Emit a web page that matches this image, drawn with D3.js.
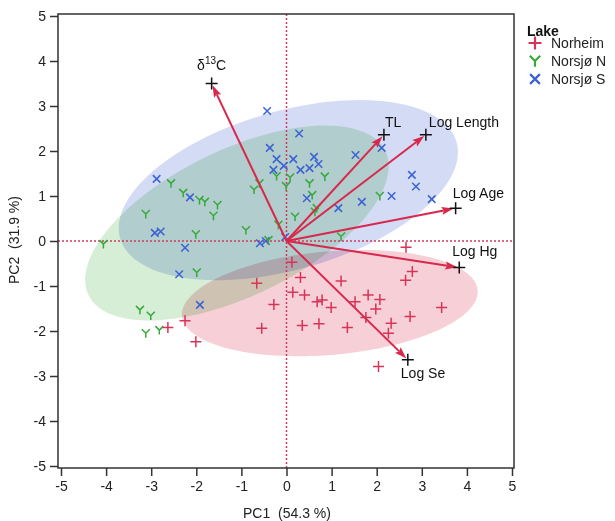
<!DOCTYPE html>
<html>
<head>
<meta charset="utf-8">
<script src="https://cdn.jsdelivr.net/npm/d3@7"></script>
<style>
  body { margin: 0; background: #fff; }
  svg { font-family: "Liberation Sans", Arial, sans-serif; }
</style>
</head>
<body>
<svg id="chart" width="615" height="521"></svg>
<script>
// scores (PC1, PC2)
const norheim = [
  [0.12,-0.47],[0.31,-0.81],[-0.66,-0.94],[0.14,-1.14],[0.40,-1.20],[-0.28,-1.41],
  [-2.25,-1.77],[-2.63,-1.92],[-0.55,-1.94],[0.35,-1.88],[-2.01,-2.24],[2.65,-0.14],
  [2.79,-0.68],[2.64,-0.87],[1.21,-0.89],[0.68,-1.35],[0.79,-1.31],[0.99,-1.48],
  [1.52,-1.35],[1.81,-1.20],[2.07,-1.30],[1.98,-1.51],[1.76,-1.70],[2.32,-1.83],
  [2.26,-2.05],[2.74,-1.68],[3.44,-1.48],[0.72,-1.84],[1.35,-1.92],[2.04,-2.79]
];
const norsjoN = [
  [-2.56,1.28],[-2.29,1.07],[-1.93,0.91],[-1.81,0.87],[-1.53,0.80],[-1.62,0.56],
  [-3.12,0.60],[-2.01,0.15],[-0.90,0.24],[-4.06,-0.07],[-0.72,1.14],[-0.60,1.28],
  [-0.22,1.44],[0.08,1.41],[-0.01,1.22],[0.19,0.54],[-0.18,0.36],[-0.40,0.02],
  [0.51,1.28],[0.85,1.43],[0.57,1.02],[0.63,0.65],[0.67,0.73],[2.07,1.00],
  [1.21,0.10],[-1.99,-0.70],[-3.25,-1.53],[-3.01,-1.66],[-3.12,-2.05],[-2.82,-1.98]
];
const norsjoS = [
  [-0.43,2.89],[0.28,2.39],[-0.37,2.07],[-0.22,1.82],[0.15,1.82],[-0.06,1.67],
  [-0.29,1.58],[0.31,1.58],[0.51,1.62],[0.61,1.87],[0.71,1.71],[0.45,0.95],
  [1.53,1.91],[2.11,2.07],[1.15,0.73],[1.67,0.87],[2.33,1.00],[2.78,1.47],
  [2.87,1.21],[3.22,0.93],[-2.88,1.38],[-2.14,0.97],[-2.92,0.18],[-2.79,0.21],
  [-2.25,-0.15],[-2.38,-0.74],[-1.92,-1.42],[-0.59,-0.05],[-0.46,0.00],[-0.03,0.09]
];

// loading vectors
const loadNames = ["δ13C", "TL", "Log Length", "Log Age", "Log Hg", "Log Se"];
const loadX = [-1.66, 2.16, 3.09, 3.75, 3.83, 2.69];
const loadY = [3.50, 2.36, 2.36, 0.73, -0.59, -2.64];

// group ellipses: centre, semi axes, rotation (deg)
const ellipseGroups = ["Norsjø S", "Norsjø N", "Norheim"];
const ellipseCx = [0.04, -1.10, 0.96];
const ellipseCy = [1.13, 0.40, -1.38];
const ellipseA = [3.88, 3.66, 3.29];
const ellipseB = [1.76, 1.62, 1.15];
const ellipseRot = [16, 26, 5];

const xTicks = [-5, -4, -3, -2, -1, 0, 1, 2, 3, 4, 5];
const yTicks = [-5, -4, -3, -2, -1, 0, 1, 2, 3, 4, 5];

const groups = [
  { name: "Norheim", data: norheim, color: "#d7345a", fill: "#f6d0d6", shape: "plus" },
  { name: "Norsjø N", data: norsjoN, color: "#36a93a", fill: "#d6eed6", shape: "y" },
  { name: "Norsjø S", data: norsjoS, color: "#3b62d2", fill: "#d4dcf5", shape: "x" }
];

const svg = d3.select("#chart");
const x = d3.scaleLinear().domain([-5, 5]).range([61, 512]);
const y = d3.scaleLinear().domain([-5, 5]).range([466, 16]);

svg.append("rect").attr("width", 615).attr("height", 521).attr("fill", "#fff");

// ellipses, multiply blended like the original
const line = d3.line().x(d => x(d[0])).y(d => y(d[1])).curve(d3.curveLinearClosed);
const ellG = svg.append("g").style("isolation", "isolate");
ellipseGroups.forEach((g, i) => {
  const th = ellipseRot[i] * Math.PI / 180;
  const pts = d3.range(0, 360, 3).map(a => {
    const p = a * Math.PI / 180;
    const u = ellipseA[i] * Math.cos(p), v = ellipseB[i] * Math.sin(p);
    return [ellipseCx[i] + u * Math.cos(th) - v * Math.sin(th),
            ellipseCy[i] + u * Math.sin(th) + v * Math.cos(th)];
  });
  const grp = groups.find(d => d.name === g);
  ellG.append("path").attr("d", line(pts))
    .attr("fill", grp.fill)
    .style("mix-blend-mode", "multiply");
});

// zero lines
svg.append("line").attr("x1", x(0)).attr("x2", x(0)).attr("y1", 14).attr("y2", 468)
  .attr("stroke", "#d13a5c").attr("stroke-width", 1.5).attr("stroke-dasharray", "2,2");
svg.append("line").attr("x1", 58).attr("x2", 514).attr("y1", y(0)).attr("y2", y(0))
  .attr("stroke", "#d13a5c").attr("stroke-width", 1.5).attr("stroke-dasharray", "2,2");

// point symbols
function symbol(shape, s) {
  if (shape === "plus") return `M${-s},0H${s}M0,${-s}V${s}`;
  if (shape === "x") { const k = s * 0.75; return `M${-k},${-k}L${k},${k}M${-k},${k}L${k},${-k}`; }
  const k = s * 0.8;
  return `M${-k},${-k}L0,0L${k},${-k}M0,0V${k * 1.1}`;
}
groups.slice().reverse().forEach(g => {
  svg.append("g").selectAll("path").data(g.data).enter().append("path")
    .attr("transform", d => `translate(${x(d[0])},${y(d[1])})`)
    .attr("d", symbol(g.shape, g.shape === "plus" ? 5.5 : 5))
    .attr("fill", "none").attr("stroke", g.color).attr("stroke-width", 1.5);
});

// loading arrows
const arrowCol = "#d8284c";
loadNames.forEach((n, i) => {
  const x0 = x(0), y0 = y(0), x1 = x(loadX[i]), y1 = y(loadY[i]);
  const len = Math.hypot(x1 - x0, y1 - y0);
  const ux = (x1 - x0) / len, uy = (y1 - y0) / len;
  const tx = x1 - ux * 2, ty = y1 - uy * 2;
  const bx = tx - ux * 12, by = ty - uy * 12;
  svg.append("line").attr("x1", x0).attr("y1", y0).attr("x2", bx + ux * 2).attr("y2", by + uy * 2)
    .attr("stroke", arrowCol).attr("stroke-width", 2);
  svg.append("path")
    .attr("d", `M${tx},${ty}L${bx - uy * 4},${by + ux * 4}L${bx + ux * 2},${by + uy * 2}L${bx + uy * 4},${by - ux * 4}Z`)
    .attr("fill", arrowCol);
  svg.append("path").attr("transform", `translate(${x1},${y1})`)
    .attr("d", "M-6,0H6M0,-6V6").attr("stroke", "#111").attr("stroke-width", 1.5);
});

// loading labels
const labelPos = [
  { dx: 0, dy: -14, anchor: "middle" },
  { dx: 1, dy: -8, anchor: "start" },
  { dx: 3, dy: -8, anchor: "start" },
  { dx: -3, dy: -10, anchor: "start" },
  { dx: -7, dy: -12, anchor: "start" },
  { dx: -7, dy: 18, anchor: "start" }
];
loadNames.forEach((n, i) => {
  const t = svg.append("text")
    .attr("x", x(loadX[i]) + labelPos[i].dx).attr("y", y(loadY[i]) + labelPos[i].dy)
    .attr("text-anchor", labelPos[i].anchor).attr("font-size", 14).attr("fill", "#111");
  if (n === "δ13C") {
    t.append("tspan").text("δ");
    t.append("tspan").attr("font-size", 10).attr("dy", -6).text("13");
    t.append("tspan").attr("dy", 6).text("C");
  } else {
    t.text(n);
  }
});

// frame and axes
svg.append("rect").attr("x", 58).attr("y", 14).attr("width", 456).attr("height", 454)
  .attr("fill", "none").attr("stroke", "#333").attr("stroke-width", 1.5);

const fmt = d => String(d);
const xAxis = svg.append("g").attr("transform", "translate(0,468)")
  .call(d3.axisBottom(x).tickValues(xTicks).tickSize(8).tickPadding(5).tickFormat(fmt));
const yAxis = svg.append("g").attr("transform", "translate(58,0)")
  .call(d3.axisLeft(y).tickValues(yTicks).tickSize(8).tickPadding(4).tickFormat(fmt));
[xAxis, yAxis].forEach(a => {
  a.select(".domain").remove();
  a.selectAll("line").attr("stroke", "#333").attr("stroke-width", 1.5);
  a.selectAll("text").attr("font-size", 14).attr("fill", "#222")
    .style("font-family", "'Liberation Sans', Arial, sans-serif");
});

svg.append("text").attr("x", 287).attr("y", 518).attr("text-anchor", "middle")
  .attr("font-size", 14).attr("fill", "#222").attr("xml:space", "preserve").text("PC1  (54.3 %)");
svg.append("text").attr("transform", "translate(19,240) rotate(-90)").attr("text-anchor", "middle")
  .attr("font-size", 14).attr("fill", "#222").attr("xml:space", "preserve").text("PC2  (31.9 %)");

// legend
const leg = svg.append("g").attr("transform", "translate(527,0)");
leg.append("text").attr("x", 0).attr("y", 36).attr("font-size", 14).attr("font-weight", "bold")
  .attr("fill", "#111").text("Lake");
groups.forEach((g, i) => {
  const cy = 43 + i * 18;
  leg.append("path").attr("transform", `translate(8,${cy})`)
    .attr("d", symbol(g.shape, 6.5))
    .attr("fill", "none").attr("stroke", g.color).attr("stroke-width", 2.2);
  leg.append("text").attr("x", 24).attr("y", cy + 5).attr("font-size", 14)
    .attr("fill", "#222").text(g.name);
});
</script>
</body>
</html>
